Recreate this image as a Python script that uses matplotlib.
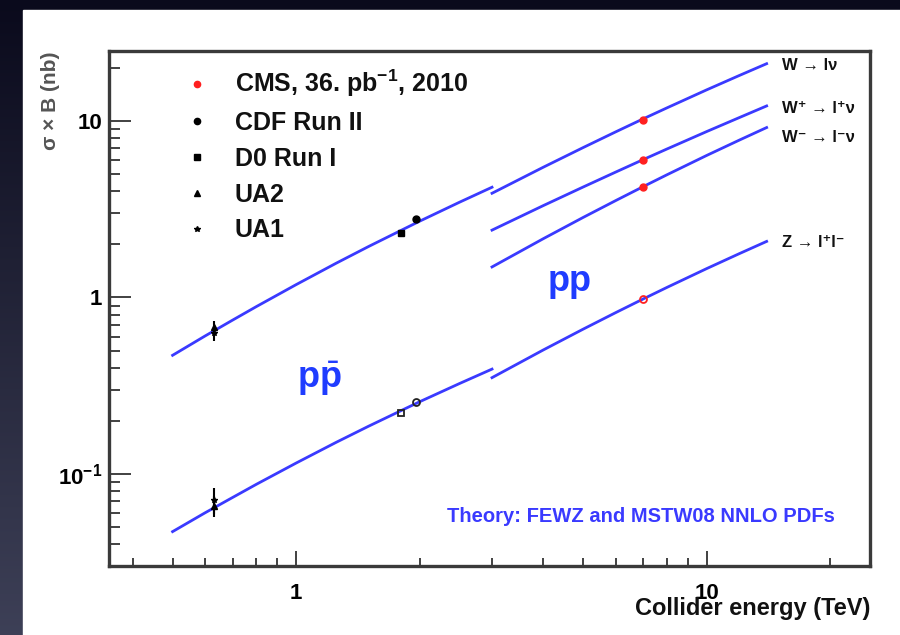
import numpy as np
import matplotlib.pyplot as plt
from matplotlib.lines import Line2D
from matplotlib.patches import Rectangle

plt.rcParams['font.family'] = ['Liberation Sans', 'DejaVu Sans']
plt.rcParams['mathtext.fontset'] = 'custom'
plt.rcParams['mathtext.bf'] = 'Liberation Sans:bold'
plt.rcParams['mathtext.rm'] = 'Liberation Sans'

# theory curves, energies in TeV, sigma*B in nb
e_ppbar = [0.5, 0.6, 0.7, 0.8, 1.0, 1.25, 1.5, 1.8, 2.0, 2.5, 3.0]
w_ppbar = [0.47, 0.605, 0.744, 0.888, 1.183, 1.562, 1.944, 2.40, 2.71, 3.47, 4.22]
z_ppbar = [0.047, 0.0601, 0.0734, 0.0872, 0.1151, 0.1506, 0.186, 0.228, 0.2564, 0.3251, 0.3925]

e_pp = [3.0, 4.0, 5.0, 6.0, 7.0, 8.0, 10.0, 12.0, 14.0]
w_pp = [3.9, 5.48, 7.08, 8.69, 10.3, 11.89, 15.05, 18.14, 21.18]
wplus_pp = [2.41, 3.32, 4.23, 5.14, 6.05, 6.95, 8.73, 10.47, 12.2]
wminus_pp = [1.49, 2.155, 2.843, 3.542, 4.25, 4.963, 6.39, 7.80, 9.20]
z_pp = [0.351, 0.504, 0.661, 0.820, 0.980, 1.140, 1.458, 1.771, 2.080]

# measurements
cms_e = 7.0
cms_w = [10.2, 6.0, 4.22]
cms_z = 0.98
cdf_e = 1.96
cdf_w, cdf_z = 2.78, 0.254
d0_e = 1.8
d0_w, d0_z = 2.31, 0.221
ua_e = 0.63
ua2_w, ua2_werr = 0.68, 0.06
ua1_w, ua1_werr = 0.63, 0.06
ua2_z, ua2_zerr = 0.066, 0.009
ua1_z, ua1_zerr = 0.071, 0.012

curve_labels = ['W \u2192 l\u03bd', 'W\u207a \u2192 l\u207a\u03bd',
                'W\u207b \u2192 l\u207b\u03bd', 'Z \u2192 l\u207al\u207b']
curve_label_y = [20.6, 11.8, 8.1, 2.06]

blue = '#3a3aff'

fig = plt.figure(figsize=(9, 6.35), dpi=100)

# dark slide background with white panel
bg = fig.add_axes([0, 0, 1, 1], zorder=-10)
grad = np.linspace(0, 1, 256).reshape(-1, 1)
c0 = np.array([0.04, 0.04, 0.11])
c1 = np.array([0.24, 0.25, 0.34])
img = c0 + (c1 - c0) * grad[:, :, None]
bg.imshow(img, aspect='auto', extent=[0, 1, 0, 1], origin='upper')
bg.add_patch(Rectangle((23 / 900, 0), 1, 1 - 10 / 635, color='white'))
bg.set_xlim(0, 1)
bg.set_ylim(0, 1)
bg.axis('off')

ax = fig.add_axes([109 / 900, 1 - 566 / 635, (870 - 109) / 900, (566 - 51) / 635])
ax.set_xscale('log')
ax.set_yscale('log')
ax.set_xlim(0.35, 25)
ax.set_ylim(0.030, 25)

lw = 2.0
ax.plot(e_ppbar, w_ppbar, color=blue, lw=lw)
ax.plot(e_ppbar, z_ppbar, color=blue, lw=lw)
for ys in (w_pp, wplus_pp, wminus_pp, z_pp):
    ax.plot(e_pp, ys, color=blue, lw=lw)

# data points
ax.plot([cms_e] * 3, cms_w, 'o', color='#ff2020', ms=5, zorder=5)
ax.plot([cms_e], [cms_z], 'o', mfc='none', mec='#ff2020', mew=1.3, ms=5, zorder=5)
ax.plot([cdf_e], [cdf_w], 'o', color='black', ms=5, zorder=5)
ax.plot([cdf_e], [cdf_z], 'o', mfc='none', mec='#222222', mew=1.3, ms=5, zorder=5)
ax.plot([d0_e], [d0_w], 's', color='black', ms=5, zorder=5)
ax.plot([d0_e], [d0_z], 's', mfc='none', mec='#222222', mew=1.3, ms=5, zorder=5)
ax.errorbar([ua_e], [ua2_w], yerr=[ua2_werr], fmt='^', color='black', ms=4, elinewidth=1.5, capsize=0, zorder=5)
ax.errorbar([ua_e], [ua1_w], yerr=[ua1_werr], fmt='*', color='black', ms=4, elinewidth=1.5, capsize=0, zorder=5)
ax.errorbar([ua_e], [ua2_z], yerr=[ua2_zerr], fmt='^', color='black', ms=4, elinewidth=1.5, capsize=0, zorder=5)
ax.errorbar([ua_e], [ua1_z], yerr=[ua1_zerr], fmt='*', color='black', ms=4, elinewidth=1.5, capsize=0, zorder=5)

# legend
handles = [
    Line2D([], [], ls='none', marker='o', color='#ff2020', ms=4.5),
    Line2D([], [], ls='none', marker='o', color='black', ms=4.5),
    Line2D([], [], ls='none', marker='s', color='black', ms=4.5),
    Line2D([], [], ls='none', marker='^', color='black', ms=4),
    Line2D([], [], ls='none', marker='*', color='black', ms=4),
]
labels = ['CMS, 36. pb$^{\\mathbf{-1}}$, 2010', 'CDF Run II', 'D0 Run I', 'UA2', 'UA1']
leg = ax.legend(handles, labels, loc='upper left', bbox_to_anchor=(189.5 / 900, 1 - 68 / 635),
                bbox_transform=fig.transFigure, frameon=False, borderpad=0, borderaxespad=0,
                handlelength=0.6, handletextpad=1.22, labelspacing=0.47,
                prop={'size': 18, 'weight': 'bold'})
for t in leg.get_texts():
    t.set_color('#111111')

# curve labels on the right
for lab, yv in zip(curve_labels, curve_label_y):
    ax.text(15.3, yv, lab, fontsize=12, fontweight='bold', va='center', ha='left', color='#111111')

ax.text(1.14, 0.345, r'$\mathbf{p}\bar{\mathbf{p}}$', fontsize=26, color='#1f3cff',
        ha='center', va='center')
ax.text(4.64, 1.24, 'pp', fontsize=26, fontweight='bold', color='#1f3cff',
        ha='center', va='center')
ax.text(0.954, 0.097, 'Theory: FEWZ and MSTW08 NNLO PDFs', transform=ax.transAxes,
        fontsize=14.5, fontweight='bold', color='#3a3aff', ha='right', va='center')

# axes styling
for s in ax.spines.values():
    s.set_linewidth(2.4)
    s.set_color('#3a3a3a')
ax.tick_params(which='both', direction='in', top=False, right=False, color='#333333')
ax.tick_params(axis='y', which='major', length=16, width=1.3, pad=5)
ax.tick_params(axis='y', which='minor', length=8, width=1.3)
ax.tick_params(axis='x', which='major', length=11, width=1.3, pad=12)
ax.tick_params(axis='x', which='minor', length=5.5, width=1.3)
ax.tick_params(axis='both', which='major', labelsize=16)
ax.set_xticks([1, 10])
ax.set_xticklabels(['1', '10'], fontweight='bold')
ax.set_yticks([0.1, 1, 10])
ax.set_yticklabels(['10$^{\\mathbf{-1}}$', '1', '10'], fontweight='bold')

ax.set_xlabel('Collider energy (TeV)', fontsize=17, fontweight='bold', color='#111111')
ax.xaxis.set_label_coords(1.0, -0.082)
ax.xaxis.label.set_ha('right')
ax.xaxis.label.set_va('center')
ax.set_ylabel('\u03c3 \u00d7 B (nb)', fontsize=15, fontweight='bold', color='#555555')
ax.yaxis.set_label_coords(-0.0775, 1.0)
ax.yaxis.label.set_ha('right')
ax.yaxis.label.set_va('center')

fig.savefig('out.png', dpi=100)
